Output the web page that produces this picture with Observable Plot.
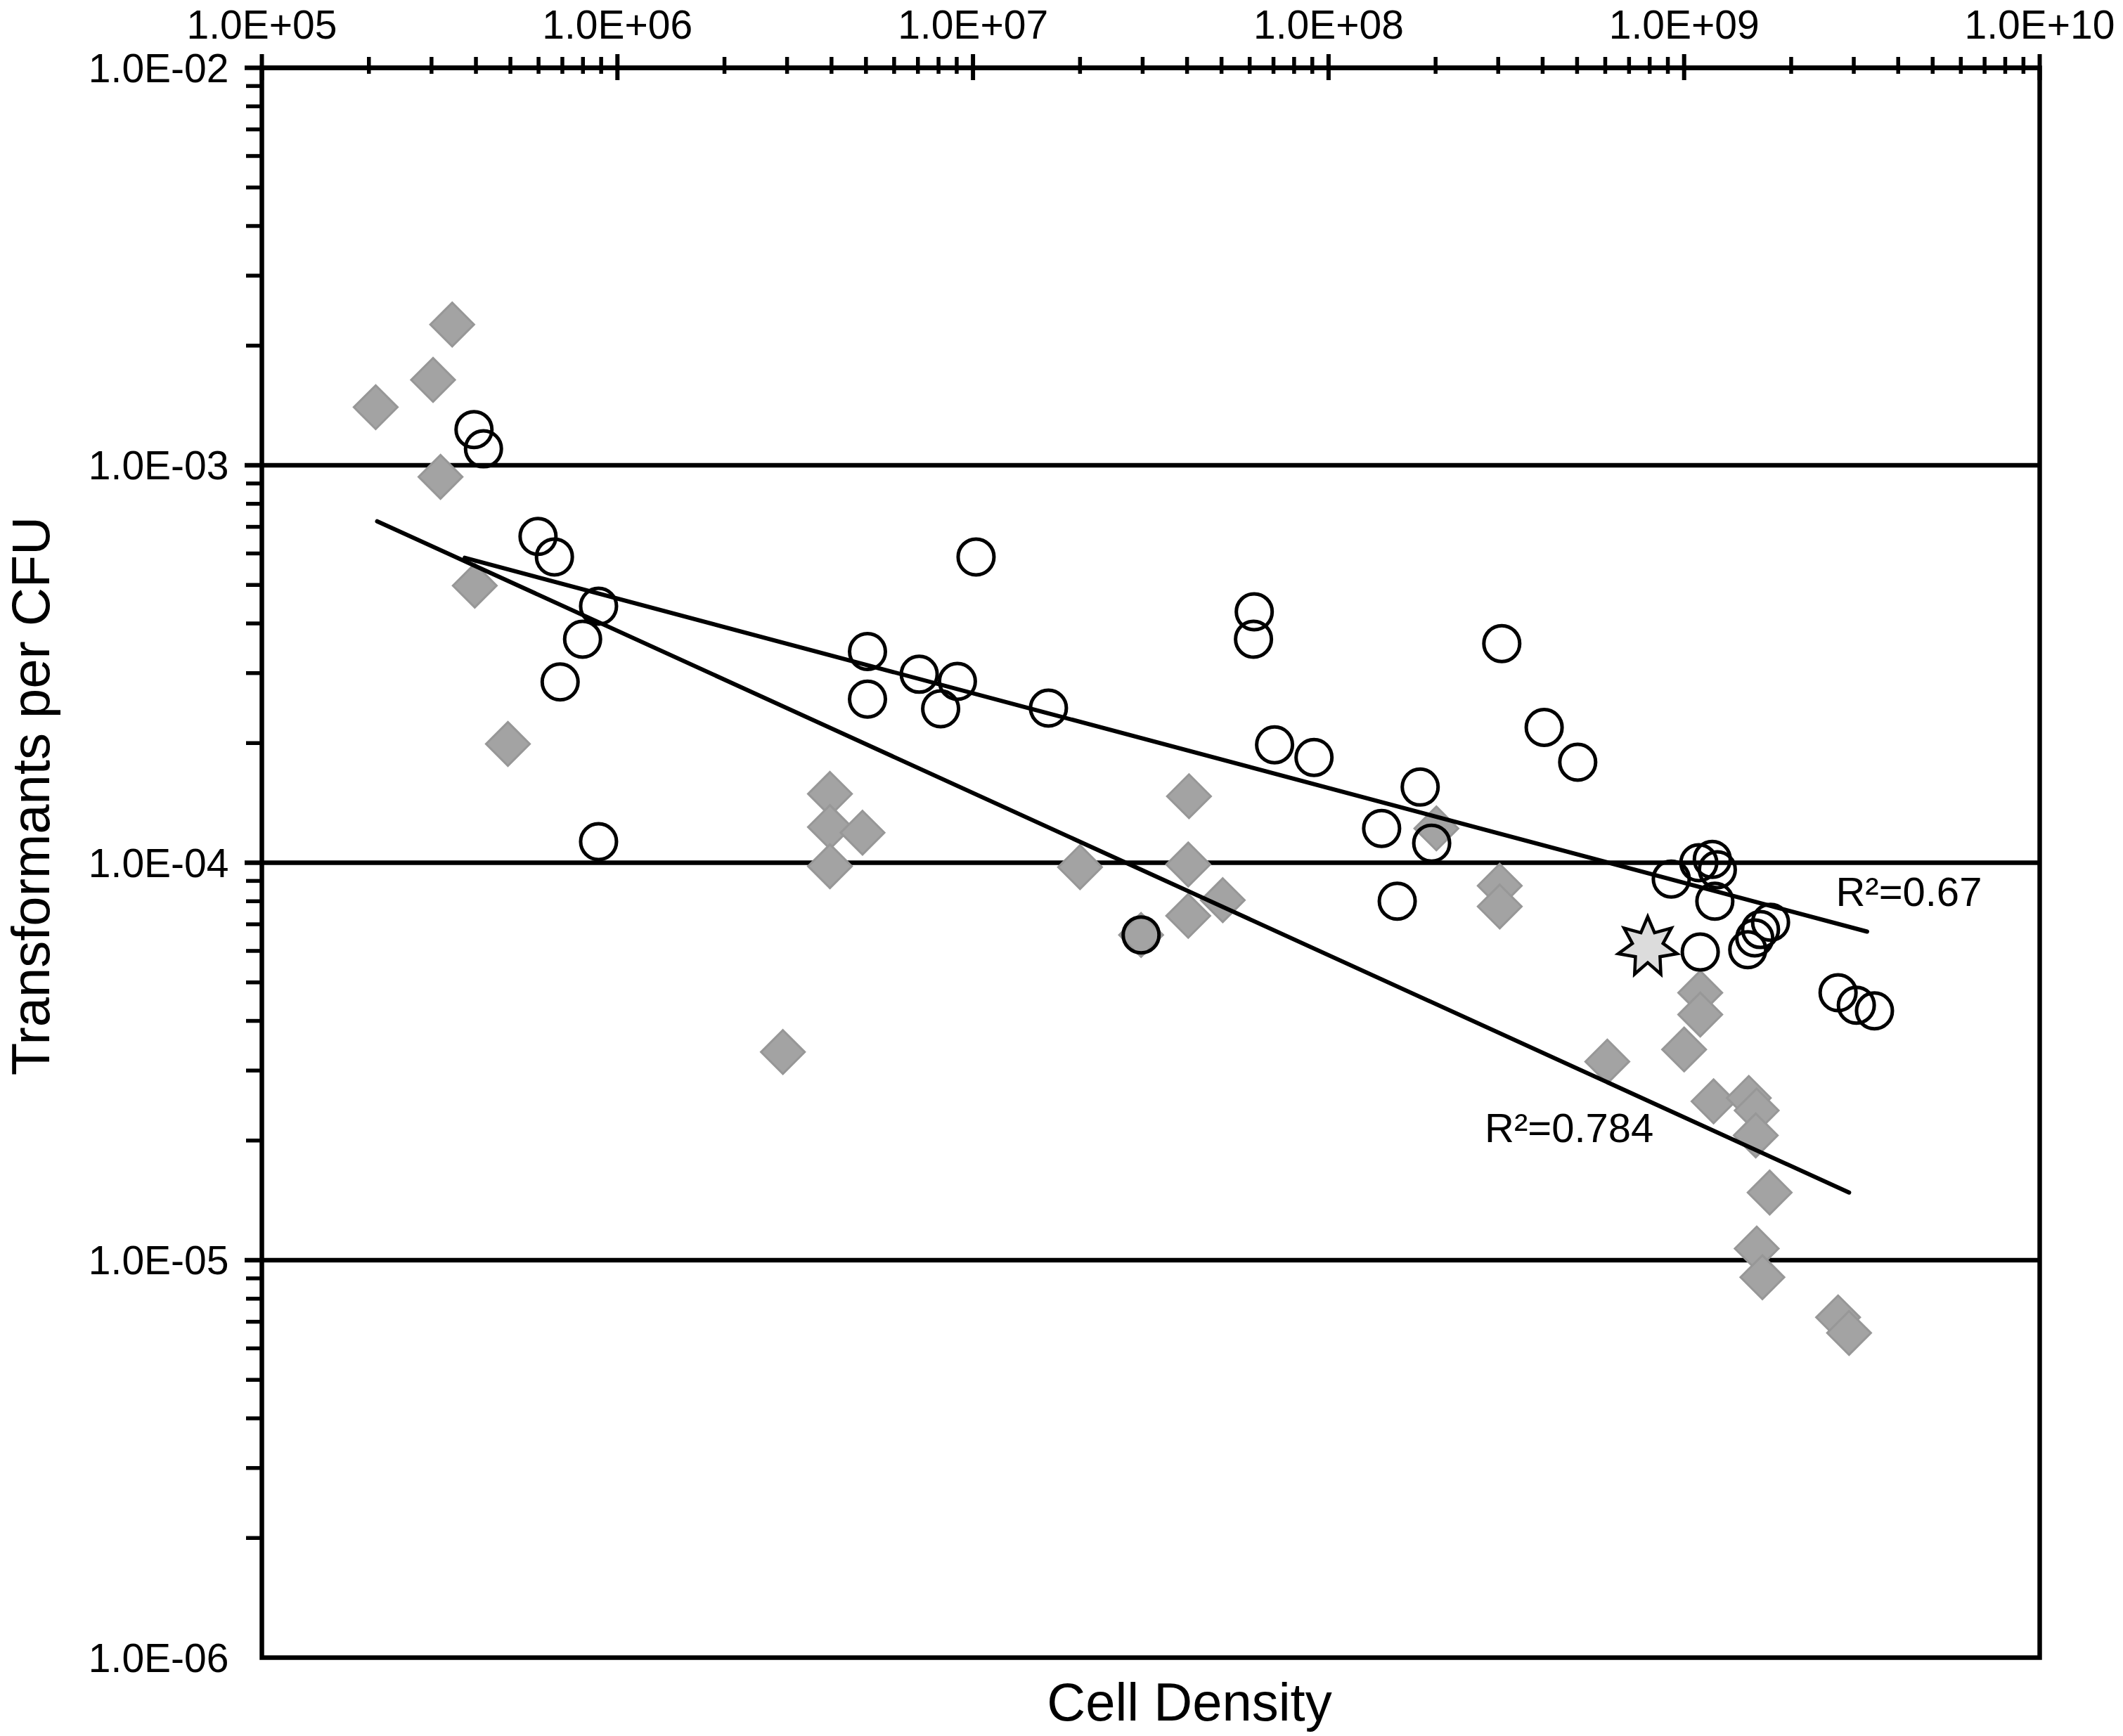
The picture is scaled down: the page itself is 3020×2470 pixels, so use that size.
<!DOCTYPE html>
<html><head><meta charset="utf-8">
<script src="https://cdn.jsdelivr.net/npm/d3@7"></script>
<script src="https://cdn.jsdelivr.net/npm/@observablehq/plot@0.6"></script>
<style>html,body{margin:0;padding:0;background:#fff}</style>
</head><body><div id="chart"></div>
<script>
// ---- data ----
const diamondX = [2.09e5,3.03e5,3.43e5,3.18e5,3.97e5,4.92e5,2.92e6,3.96e6,3.96e6,3.96e6,4.89e6,2.00e7,2.97e7,4.05e7,4.03e7,4.03e7,5.04e7,2.01e8,3.03e8,3.03e8,6.08e8,1.00e9,1.11e9,1.11e9,1.21e9,1.52e9,1.60e9,1.59e9,1.74e9,1.60e9,1.66e9,2.71e9,2.91e9];
const diamondY = [1.40e-3,1.64e-3,2.26e-3,9.35e-4,4.98e-4,1.99e-4,3.34e-5,1.49e-4,1.23e-4,9.8e-5,1.19e-4,9.75e-5,6.58e-5,1.47e-4,9.9e-5,7.35e-5,8.05e-5,1.22e-4,8.75e-5,7.76e-5,3.16e-5,3.39e-5,4.71e-5,4.15e-5,2.51e-5,2.56e-5,2.38e-5,2.06e-5,1.48e-5,1.07e-5,9.06e-6,7.18e-6,6.56e-6];
const circleX = [3.95e5,4.20e5,5.98e5,6.65e5,8.85e5,7.98e5,6.90e5,8.85e5,5.05e6,5.05e6,7.06e6,9.04e6,8.11e6,1.02e7,1.63e7,2.97e7,6.18e7,6.15e7,7.05e7,9.10e7,1.41e8,1.56e8,1.81e8,1.95e8,3.07e8,4.04e8,5.02e8,9.2e8,1.10e9,1.20e9,1.24e9,1.22e9,1.11e9,1.51e9,1.58e9,1.64e9,1.75e9,2.71e9,3.05e9,3.43e9];
const circleY = [1.23e-3,1.10e-3,6.62e-4,5.88e-4,4.42e-4,3.65e-4,2.85e-4,1.13e-4,3.40e-4,2.58e-4,2.98e-4,2.86e-4,2.44e-4,5.88e-4,2.45e-4,6.58e-5,4.28e-4,3.65e-4,1.98e-4,1.84e-4,1.22e-4,8.0e-5,1.55e-4,1.12e-4,3.56e-4,2.19e-4,1.79e-4,9.1e-5,1.00e-4,1.02e-4,9.6e-5,8.0e-5,5.96e-5,6.04e-5,6.47e-5,6.79e-5,7.08e-5,4.71e-5,4.38e-5,4.24e-5];
const starX = [7.9e8];
const starY = [6.14e-5];
// fitted trend lines (end points)
const fitAX = [2.11e5, 2.91e9];
const fitAY = [7.23e-4, 1.48e-5];
const fitBX = [3.72e5, 3.27e9];
const fitBY = [5.85e-4, 6.71e-5];
// R² annotations
const r2Text = ["R\u00B2=0.67", "R\u00B2=0.784"];
const r2X = [2.67e9, 2.75e8];
const r2Y = [7.8e-5, 1.98e-5];
// axes
const xMajor = [1e5,1e6,1e7,1e8,1e9,1e10];
const yMajor = [1e-6,1e-5,1e-4,1e-3,1e-2];
const yGrid = [1e-5,1e-4,1e-3,1e-2];
const minorMult = [2,3,4,5,6,7,8,9];
const xTitle = "Cell Density";
const yTitle = "Transformants per CFU";

// ---- derived tables ----
const xMinor = xMajor.slice(0,-1).flatMap(d => minorMult.map(m => d*m));
const yMinor = yMajor.slice(0,-1).flatMap(d => minorMult.map(m => d*m));
const diamonds = diamondX.map((x,i) => ({x, y: diamondY[i]}));
const circles = circleX.map((x,i) => ({x, y: circleY[i]}));
const stars = starX.map((x,i) => ({x, y: starY[i]}));
const fitA = fitAX.map((x,i) => ({x, y: fitAY[i]}));
const fitB = fitBX.map((x,i) => ({x, y: fitBY[i]}));
const r2 = r2Text.map((t,i) => ({t, x: r2X[i], y: r2Y[i]}));
const yTop = yMajor[yMajor.length-1];
const xLeft = xMajor[0];

const fmtE = d => {
  const e = Math.round(Math.log10(d));
  return "1.0E" + (e < 0 ? "-" : "+") + String(Math.abs(e)).padStart(2, "0");
};

const star7 = {
  draw(ctx, size) {
    const R = Math.sqrt(size / Math.PI), r = R * 0.52;
    for (let i = 0; i < 14; i++) {
      const a = -Math.PI / 2 + i * Math.PI / 7;
      const rr = i % 2 ? r : R;
      const px = rr * Math.cos(a), py = rr * Math.sin(a);
      if (i) ctx.lineTo(px, py); else ctx.moveTo(px, py);
    }
    ctx.closePath();
  }
};

const LW = 6.5;
const chart = Plot.plot({
  width: 3020,
  height: 2470,
  marginLeft: 372,
  marginRight: 119,
  marginTop: 96,
  marginBottom: 112,
  style: {fontFamily: "'Liberation Sans', Arial, Helvetica, sans-serif", background: "white", color: "black"},
  x: {type: "log", domain: [1e5, 1e10]},
  y: {type: "log", domain: [1e-6, 1e-2]},
  marks: [
    // horizontal gridlines at decades (with outside tick)
    Plot.ruleY(yGrid, {stroke: "black", strokeWidth: LW, insetLeft: -24}),
    // left minor ticks
    Plot.ruleY(yMinor, {x1: xLeft, x2: xLeft, insetLeft: -22, stroke: "black", strokeWidth: 5.5}),
    // top ticks
    Plot.ruleX(xMinor, {y1: yTop, y2: yTop, insetTop: -15, insetBottom: -9, stroke: "black", strokeWidth: 5.5}),
    Plot.ruleX(xMajor, {y1: yTop, y2: yTop, insetTop: -19, insetBottom: -18, stroke: "black", strokeWidth: 6}),
    Plot.frame({stroke: "black", strokeWidth: LW}),
    // tick labels
    Plot.axisX({anchor: "top", ticks: xMajor, tickFormat: fmtE, tickSize: 0, tickPadding: 42, fontSize: 57, label: null}),
    Plot.axisY({anchor: "left", ticks: yMajor, tickFormat: fmtE, tickSize: 0, tickPadding: 47, fontSize: 57, dy: 2, label: null}),
    // data
    Plot.dot(diamonds, {x: "x", y: "y", symbol: "diamond2", r: 28, fill: "#a3a3a3", stroke: "#979797", strokeWidth: 3}),
    Plot.dot(circles, {x: "x", y: "y", symbol: "circle", r: 25.5, fill: "none", stroke: "black", strokeWidth: 5}),
    Plot.dot(stars, {x: "x", y: "y", symbol: star7, r: 43, fill: "#dcdcdc", stroke: "black", strokeWidth: 4.5}),
    // trend lines
    Plot.line(fitA, {x: "x", y: "y", stroke: "black", strokeWidth: 6}),
    Plot.line(fitB, {x: "x", y: "y", stroke: "black", strokeWidth: 6}),
    Plot.text(r2, {x: "x", y: "y", text: "t", textAnchor: "start", lineAnchor: "bottom", fontSize: 58, fill: "black"}),
    // axis titles
    Plot.text([xTitle], {frameAnchor: "bottom", dx: 55, dy: 36, lineAnchor: "top", fontSize: 76, fill: "black"}),
    Plot.text([yTitle], {frameAnchor: "left", rotate: -90, dx: -327, dy: -95, lineAnchor: "middle", textAnchor: "middle", fontSize: 76, fill: "black"})
  ]
});
document.getElementById("chart").appendChild(chart);
</script></body></html>
